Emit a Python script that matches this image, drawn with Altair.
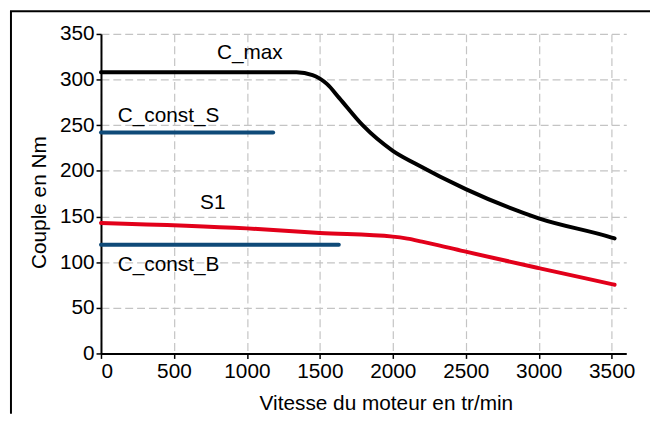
import altair as alt
import pandas as pd

# C_max curve
cmax_x = [0, 1340, 1450, 1500, 1550, 1632, 1793, 2000, 2153, 2500, 3000, 3500, 3520]
cmax_y = [308, 308, 305, 301, 295, 280, 250, 222, 208, 180, 148, 127, 126]
# S1 curve
s1_x = [0, 1000, 1500, 2000, 2100, 2200, 2300, 2500, 3000, 3500, 3520]
s1_y = [143, 137, 132, 128, 125.8, 122.5, 119, 111.5, 93.5, 76, 75.3]
# constant lines
cs_x = [0, 1180]
cs_y = [242, 242]
cb_x = [0, 1630]
cb_y = [119, 119]

series_names = ["C_max", "S1", "C_const_S", "C_const_B"]
series_colors = ["#000000", "#e2001a", "#0f4a78", "#0f4a78"]

label_text = ["C_max", "C_const_S", "S1", "C_const_B"]
label_x = [1020, 115, 766, 115]
label_y = [323, 253, 158, 90]
label_align = ["center", "left", "center", "left"]

x_ticks = [0, 500, 1000, 1500, 2000, 2500, 3000, 3500]
y_ticks = [0, 50, 100, 150, 200, 250, 300, 350]

rows = []
for name, xs, ys in [("C_max", cmax_x, cmax_y), ("S1", s1_x, s1_y),
                     ("C_const_S", cs_x, cs_y), ("C_const_B", cb_x, cb_y)]:
    for i, (a, b) in enumerate(zip(xs, ys)):
        rows.append({"serie": name, "x": a, "y": b, "o": i})
df = pd.DataFrame(rows)

lab = pd.DataFrame({"t": label_text, "x": label_x, "y": label_y, "a": label_align})

FONT = "Liberation Sans"
FS = 21

xs = alt.Scale(domain=[0, 3600], nice=False)
ys = alt.Scale(domain=[0, 350], nice=False)

lines = alt.Chart(df).mark_line(strokeWidth=4, strokeCap="round", interpolate="monotone").encode(
    x=alt.X("x:Q", scale=xs, axis=alt.Axis(
        values=x_ticks, format="d", title="Vitesse du moteur en tr/min", titleX=288, titleY=57,
        titleBaseline="alphabetic", titleAnchor="start", titleAlign="center")),
    y=alt.Y("y:Q", scale=ys, axis=alt.Axis(
        values=y_ticks, format="d", title="Couple en Nm", titleX=-56, titleY=170,
        titleBaseline="alphabetic", titleAnchor="start", titleAlign="center", titleAngle=270)),
    color=alt.Color("serie:N", scale=alt.Scale(domain=series_names, range=series_colors), legend=None),
    detail="serie:N",
    order="o:Q",
)

texts_l = alt.Chart(lab[lab["a"] == "left"]).mark_text(
    align="left", baseline="alphabetic", fontSize=FS, font=FONT, color="#000000").encode(
    x=alt.X("x:Q", scale=xs), y=alt.Y("y:Q", scale=ys), text="t:N")
texts_c = alt.Chart(lab[lab["a"] == "center"]).mark_text(
    align="center", baseline="alphabetic", fontSize=FS, font=FONT, color="#000000").encode(
    x=alt.X("x:Q", scale=xs), y=alt.Y("y:Q", scale=ys), text="t:N")

frame_left = alt.Chart().mark_rule(color="#000000", strokeWidth=2).encode(
    x=alt.value(-91), y=alt.value(-23), y2=alt.value(384))
frame_top = alt.Chart().mark_rule(color="#000000", strokeWidth=2).encode(
    y=alt.value(-23), x=alt.value(-92), x2=alt.value(555))

chart = alt.layer(frame_left, frame_top, lines, texts_l, texts_c).properties(
    width=531, height=323,
    autosize=alt.AutoSizeParams(type="none"),
    padding={"left": 94, "top": 24, "right": 24, "bottom": 61},
).configure_view(stroke=None).configure_axis(
    labelFont=FONT, titleFont=FONT, labelFontSize=FS, titleFontSize=FS,
    labelColor="#000000", titleColor="#000000", titleFontWeight="normal",
    domainColor="#000000", domainWidth=2, tickColor="#000000", tickWidth=1.5, tickSize=5,
    labelPadding=2, gridColor="#c4c4c4", gridDash=[8, 4], gridWidth=1.2,
)

chart.save("out.html", embed_options={"renderer": "svg", "actions": False})
